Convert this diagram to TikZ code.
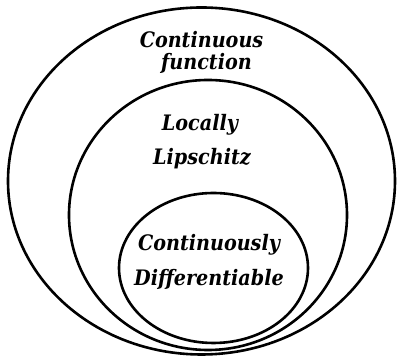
\documentclass[tikz,border=0pt]{standalone}
\usepackage{fontspec}
\setmainfont{DejaVu Serif Condensed}
\begin{document}
\begin{tikzpicture}[x=1pt,y=1pt,
  set/.style={draw=black,line width=2.6pt},
  lbl/.style={font=\fontsize{21.3}{25}\selectfont\bfseries\itshape,anchor=base,inner sep=0pt}]
\useasboundingbox (0,0) rectangle (397,358);
\draw[set] (201.5,177) ellipse [x radius=193.5, y radius=173.5];
\draw[set] (208,143) ellipse [x radius=139, y radius=135];
\draw[set] (213.5,90) ellipse [x radius=94.5, y radius=75];
\node[lbl] (cf1) at (201.5,310.5) {Continuous};
\node[lbl] (cf2) at (206.5,288.5) {function};
\node[lbl] (ll1) at (200,227) {Locally};
\node[lbl] (ll2) at (202,193) {Lipschitz};
\node[lbl] (cd1) at (209,107) {Continuously};
\node[lbl] (cd2) at (209,72) {Differentiable};
\end{tikzpicture}
\end{document}
